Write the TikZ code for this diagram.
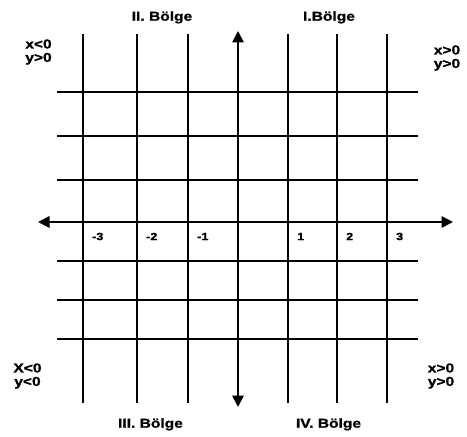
\documentclass[tikz,border=0pt]{standalone}
\usepackage{fontspec}
\newfontfamily\bolgefont{Liberation Sans Bold}[FakeStretch=1.2,FakeBold=1.2]
\usetikzlibrary{arrows.meta}

\begin{document}
\begin{tikzpicture}[x=1bp,y=-1bp,
	gridline/.style={line width=1.3bp},
	axisline/.style={line width=1.8bp,{Triangle[length=11.5bp,width=11.5bp]}-{Triangle[length=11.5bp,width=11.5bp]}},
	region/.style={font=\bolgefont\fontsize{13}{13}\selectfont, inner sep=0pt, anchor=base},
	sign/.style={font=\bolgefont\fontsize{13}{13.5}\selectfont, inner sep=0pt, align=center},
	tick/.style={font=\bolgefont\fontsize{10.5}{12}\selectfont, inner sep=0pt, anchor=west}]
	\useasboundingbox (0,0) rectangle (467,437);
	% grid
	\foreach \x [count=\i] in {83,137,188,288,337,387}{
		\coordinate (vt\i) at (\x,34);
		\coordinate (vb\i) at (\x,403);
		\draw[gridline] (vt\i) -- (vb\i);
	}
	\foreach \y [count=\i] in {92,136,180,261,300,339}{
		\coordinate (hl\i) at (57,\y);
		\coordinate (hr\i) at (418,\y);
		\draw[gridline] (hl\i) -- (hr\i);
	}
	% axes
	\coordinate (xw) at (38,222);
	\coordinate (xe) at (453,222);
	\coordinate (yn) at (238,31);
	\coordinate (ys) at (238,407);
	\draw[axisline] (xw) -- (xe);
	\draw[axisline] (yn) -- (ys);
	% ticks
	\foreach \x/\t [count=\i] in {83/-3,137/-2,188/-1,288/1,337/2,387/3}
		\node[tick] (tk\i) at (\x+9,236.5) {\t};
	% regions
	\node[region] (b2) at (162,20.7) {II. Bölge};
	\node[region] (b1) at (329,20.7) {I.Bölge};
	\node[region] (b3) at (150.5,427.7) {III. Bölge};
	\node[region] (b4) at (328.5,427.7) {IV. Bölge};
	\node[sign] (s2) at (38.5,52) {x<0\\y>0};
	\node[sign] (s1) at (447,58) {x>0\\y>0};
	\node[sign] (s3) at (27.5,376) {X<0\\y<0};
	\node[sign] (s4) at (441,376) {x>0\\y>0};
\end{tikzpicture}
\end{document}
